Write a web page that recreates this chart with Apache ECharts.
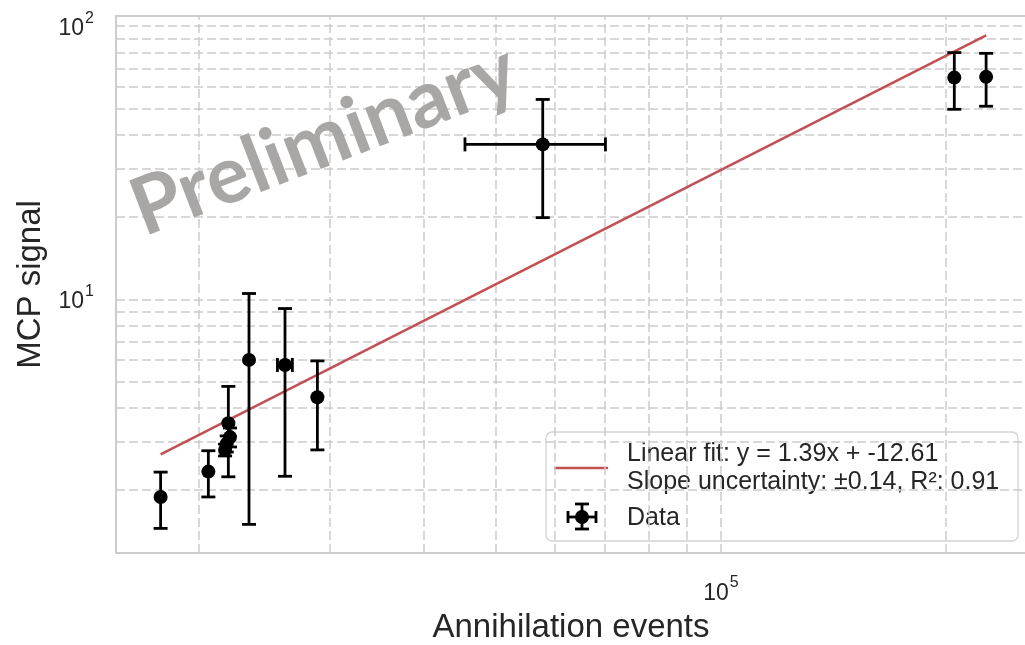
<!DOCTYPE html>
<html>
<head>
<meta charset="utf-8">
<script src="https://cdn.jsdelivr.net/npm/echarts@6/dist/echarts.min.js"></script>
<style>
  html, body { margin: 0; padding: 0; background: #ffffff; }
  #chart { width: 1025px; height: 645px; }
</style>
</head>
<body>
<div id="chart"></div>
<script>
// Measured points: annihilation events vs MCP signal, with symmetric error bars
const annihilationEvents = [17810, 20630, 21720, 21830, 21940, 22050, 23380, 26120, 28860, 57760, 205100, 226200];
const annihilationErr    = [0, 0, 0, 0, 0, 0, 0, 600, 0, 12300, 0, 0];
const mcpSignal          = [1.89, 2.34, 2.81, 2.96, 3.52, 3.13, 6.0, 5.75, 4.38, 36.9, 64.8, 65.2];
const mcpSignalErr       = [0.44, 0.45, 0.14, 0.2, 1.28, 0.25, 4.5, 3.5, 1.57, 17.0, 15.2, 14.3];

// Power-law fit in log space: ln(y) = slope * ln(x) + intercept
const fitSlope = 1.39;
const fitIntercept = -12.61;
const fitSlopeErr = 0.14;
const fitR2 = 0.91;

// Grid lines (decades and their 2..9 subdivisions) inside the visible ranges
const xGridValues = [20000, 30000, 40000, 50000, 60000, 70000, 80000, 90000, 100000, 200000];
const yGridValues = [2, 3, 4, 5, 6, 7, 8, 9, 10, 20, 30, 40, 50, 60, 70, 80, 90, 100];

const xAxisTitle = 'Annihilation events';
const yAxisTitle = 'MCP signal';
const fitLegendLines = [
  'Linear fit: y = ' + fitSlope.toFixed(2) + 'x + ' + fitIntercept.toFixed(2),
  'Slope uncertainty: \u00b1' + fitSlopeErr.toFixed(2) + ', R\u00b2: ' + fitR2.toFixed(2)
];
const dataLegendLabel = 'Data';
const watermarkText = 'Preliminary';

const TEXT = '#262626';
const GRID = '#cccccc';
const FIT = '#c44e52';
const FONT = 'Liberation Sans';

const points = annihilationEvents.map((x, i) => [x, mcpSignal[i], mcpSignalErr[i], annihilationErr[i]]);
const xLo = Math.min(...annihilationEvents);
const xHi = Math.max(...annihilationEvents);
const fitAt = x => Math.exp(fitIntercept) * Math.pow(x, fitSlope);
const fitData = [[xLo, fitAt(xLo)], [xHi, fitAt(xHi)]];

function decadeLabel(v) {
  const e = Math.log10(v);
  const r = Math.round(e);
  if (Math.abs(e - r) > 1e-6) return '';
  return '{b|10}{s|' + r + '}';
}
const tickRich = {
  b: { fontSize: 23, fontFamily: FONT, color: TEXT, verticalAlign: 'bottom', lineHeight: 28 },
  s: { fontSize: 16, fontFamily: FONT, color: TEXT, verticalAlign: 'bottom', lineHeight: 16, padding: [0, 0, 14, 1] }
};

const gridDash = [9, 4];
const gridLines = xGridValues.map(v => ({ xAxis: v })).concat(yGridValues.map(v => ({ yAxis: v })));

const BAR_W = 2.8;
function errorBars(params, api) {
  const x = api.value(0), y = api.value(1), ye = api.value(2), xe = api.value(3);
  const top = api.coord([x, y + ye]);
  const bot = api.coord([x, y - ye]);
  const cap = 7;
  const st = { stroke: '#000000', lineWidth: BAR_W, fill: null };
  const kids = [
    { type: 'line', shape: { x1: top[0], y1: top[1], x2: bot[0], y2: bot[1] }, style: st },
    { type: 'line', shape: { x1: top[0] - cap, y1: top[1], x2: top[0] + cap, y2: top[1] }, style: st },
    { type: 'line', shape: { x1: bot[0] - cap, y1: bot[1], x2: bot[0] + cap, y2: bot[1] }, style: st }
  ];
  if (xe > 0) {
    const l = api.coord([x - xe, y]);
    const r = api.coord([x + xe, y]);
    kids.push(
      { type: 'line', shape: { x1: l[0], y1: l[1], x2: r[0], y2: r[1] }, style: st },
      { type: 'line', shape: { x1: l[0], y1: l[1] - cap, x2: l[0], y2: l[1] + cap }, style: st },
      { type: 'line', shape: { x1: r[0], y1: r[1] - cap, x2: r[0], y2: r[1] + cap }, style: st }
    );
  }
  return { type: 'group', children: kids };
}

// Legend drawn as a framed box in the lower right of the plot
const legendFont = '25px "' + FONT + '"';
const lgX = 546, lgY = 432;
const blk = { stroke: '#000', lineWidth: BAR_W };
const legendBox = {
  type: 'group',
  z: 100,
  children: [
    { type: 'rect', shape: { x: lgX, y: lgY, width: 472, height: 109, r: 6 },
      style: { fill: 'rgba(255,255,255,0.82)', stroke: '#d4d4d4', lineWidth: 1.3 } },
    { type: 'line', shape: { x1: lgX + 8, y1: lgY + 36, x2: lgX + 62, y2: lgY + 36 },
      style: { stroke: FIT, lineWidth: 2.5 } },
    { type: 'text', x: lgX + 81, y: lgY + 22,
      style: { text: fitLegendLines[0], font: legendFont, fill: TEXT, align: 'left', verticalAlign: 'middle' } },
    { type: 'text', x: lgX + 81, y: lgY + 50,
      style: { text: fitLegendLines[1], font: legendFont, fill: TEXT, align: 'left', verticalAlign: 'middle' } },
    { type: 'text', x: lgX + 81, y: lgY + 86,
      style: { text: dataLegendLabel, font: legendFont, fill: TEXT, align: 'left', verticalAlign: 'middle' } },
    { type: 'line', shape: { x1: lgX + 36, y1: lgY + 72, x2: lgX + 36, y2: lgY + 97 }, style: blk },
    { type: 'line', shape: { x1: lgX + 29, y1: lgY + 72, x2: lgX + 43, y2: lgY + 72 }, style: blk },
    { type: 'line', shape: { x1: lgX + 29, y1: lgY + 97, x2: lgX + 43, y2: lgY + 97 }, style: blk },
    { type: 'line', shape: { x1: lgX + 22, y1: lgY + 85, x2: lgX + 50, y2: lgY + 85 }, style: blk },
    { type: 'line', shape: { x1: lgX + 22, y1: lgY + 79, x2: lgX + 22, y2: lgY + 91 }, style: blk },
    { type: 'line', shape: { x1: lgX + 50, y1: lgY + 79, x2: lgX + 50, y2: lgY + 91 }, style: blk },
    { type: 'circle', shape: { cx: lgX + 36, cy: lgY + 85, r: 7 }, style: { fill: '#000' } }
  ]
};

const watermark = {
  type: 'text',
  z: 50,
  x: 324, y: 140,
  rotation: 21 * Math.PI / 180,
  style: { text: watermarkText, font: 'bold 80px Lato', fill: '#a9a6a6', align: 'center', verticalAlign: 'middle' }
};

const chart = echarts.init(document.getElementById('chart'), null, { renderer: 'canvas' });
chart.setOption({
  animation: false,
  backgroundColor: '#ffffff',
  grid: {
    left: 116, top: 16, right: -1, bottom: 92,
    outerBoundsMode: 'none', containLabel: false,
    show: true, borderColor: GRID, borderWidth: 2
  },
  xAxis: {
    type: 'log', logBase: 10, min: 15524, max: 255760,
    axisLine: { show: false }, axisTick: { show: false }, splitLine: { show: false },
    axisLabel: { formatter: decadeLabel, rich: tickRich, margin: 24, showMinLabel: false, showMaxLabel: false },
    name: xAxisTitle, nameLocation: 'middle', nameGap: 58,
    nameTextStyle: { fontSize: 33, fontFamily: FONT, color: TEXT }
  },
  yAxis: {
    type: 'log', logBase: 10, min: 1.1784, max: 108.9,
    axisLine: { show: false }, axisTick: { show: false }, splitLine: { show: false },
    axisLabel: { formatter: decadeLabel, rich: tickRich, margin: 22, showMinLabel: false, showMaxLabel: false },
    name: yAxisTitle, nameLocation: 'middle', nameGap: 68, nameRotate: 90,
    nameTextStyle: { fontSize: 33, fontFamily: FONT, color: TEXT }
  },
  graphic: [watermark, legendBox],
  series: [
    {
      name: 'grid', type: 'line', data: fitData, z: 1, silent: true,
      symbol: 'none', lineStyle: { opacity: 0 },
      markLine: {
        silent: true, symbol: 'none', z: 1, animation: false,
        label: { show: false },
        lineStyle: { color: GRID, width: 1.5, type: gridDash },
        emphasis: { disabled: true },
        data: gridLines
      }
    },
    {
      name: 'fit', type: 'line', data: fitData, z: 60, symbol: 'none', silent: true,
      lineStyle: { color: FIT, width: 2.5 }
    },
    {
      name: 'errors', type: 'custom', data: points, z: 70, silent: true,
      encode: { x: 0, y: 1 },
      renderItem: errorBars
    },
    {
      name: 'Data', type: 'scatter', data: points, z: 80, silent: true,
      symbol: 'circle', symbolSize: 14, itemStyle: { color: '#000000', opacity: 1 }
    }
  ]
});
</script>
</body>
</html>
